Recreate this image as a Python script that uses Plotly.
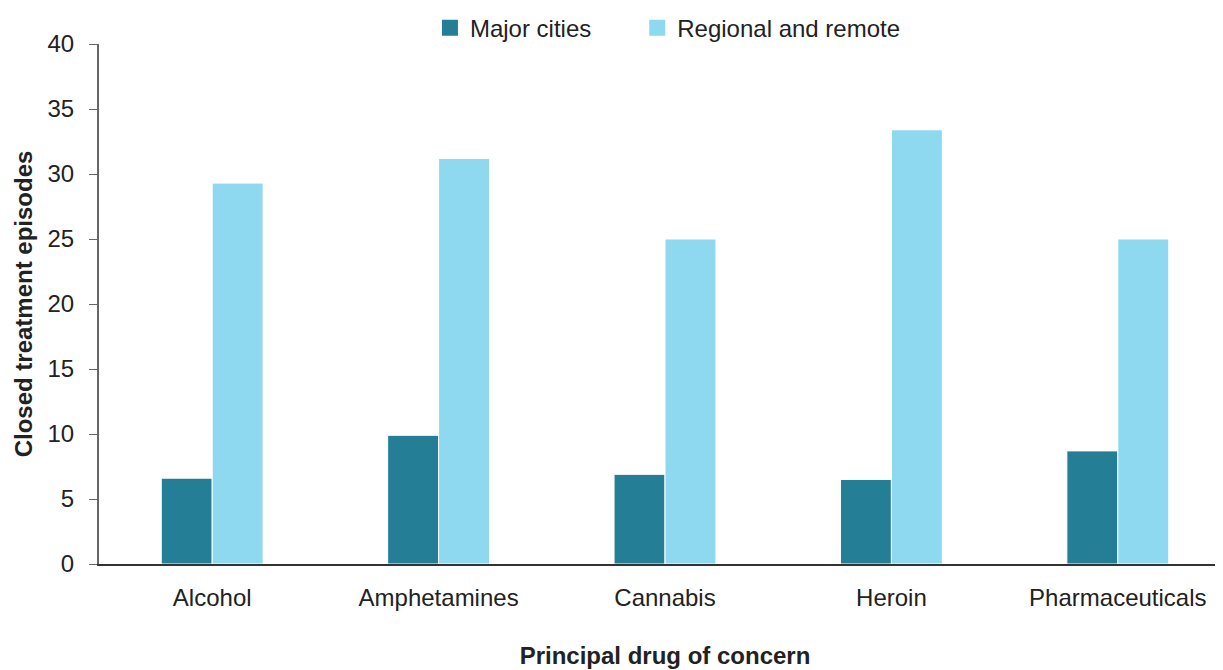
import plotly.graph_objects as go

categories = ["Alcohol", "Amphetamines", "Cannabis", "Heroin", "Pharmaceuticals"]
major_cities = [6.6, 9.9, 6.9, 6.5, 8.7]
regional_remote = [29.3, 31.2, 25.0, 33.4, 25.0]
y_ticks = [0, 5, 10, 15, 20, 25, 30, 35, 40]

series = [("Major cities", major_cities, "#237E96", "legend"),
          ("Regional and remote", regional_remote, "#8ED8F0", "legend2")]

fig = go.Figure()
for name, vals, col, lg in series:
    fig.add_trace(go.Bar(x=categories, y=vals, name=name, showlegend=False,
                         marker=dict(color=col, line=dict(color="white", width=1))))
for name, vals, col, lg in series:
    fig.add_trace(go.Scatter(x=[None], y=[None], mode="markers", name=name, legend=lg,
                             marker=dict(symbol="square", size=22, color=col)))

legend_common = dict(orientation="h", xanchor="left", xref="container",
                     y=0.970, yanchor="middle", yref="container",
                     font=dict(size=24), itemwidth=30, bgcolor="rgba(0,0,0,0)")

fig.update_layout(
    width=1223, height=670,
    margin=dict(l=91, r=0, t=36, b=114, autoexpand=False),
    paper_bgcolor="white", plot_bgcolor="white",
    font=dict(family="Liberation Sans, Arial, sans-serif", size=24, color="#222222"),
    barmode="group", bargap=0.55, bargroupgap=0,
    showlegend=True,
    legend=dict(x=0.345, **legend_common),
    legend2=dict(x=0.5145, **legend_common),
    xaxis=dict(
        showline=True, linecolor="#333333", linewidth=2,
        ticks="", showgrid=False, automargin=False,
        tickfont=dict(size=24), ticklabelstandoff=11,
        title=dict(text="<b>Principal drug of concern</b>", font=dict(size=24), standoff=37),
    ),
    yaxis=dict(
        range=[0, 40], tickvals=y_ticks,
        showline=True, linecolor="#666666", linewidth=2,
        ticks="outside", ticklen=8, tickcolor="#666666", tickwidth=1,
        showgrid=False, zeroline=False, automargin=False,
        tickfont=dict(size=24), ticklabelstandoff=10,
        title=dict(text="<b>Closed treatment episodes</b>", font=dict(size=24), standoff=8),
    ),
)

fig.write_html("out.html")
